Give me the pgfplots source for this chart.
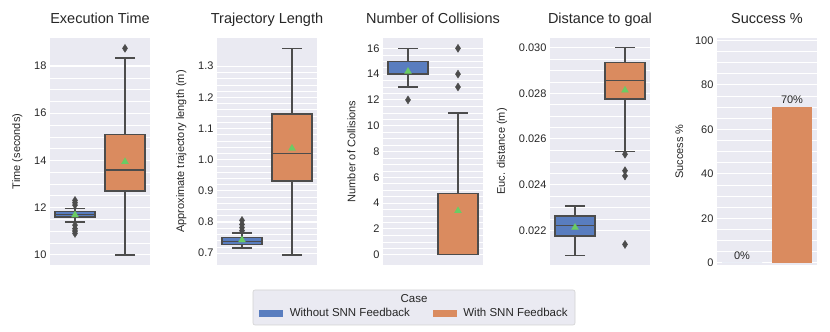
\documentclass[border=0pt]{standalone}
\usepackage{pgfplots}
\pgfplotsset{compat=1.18}
\usepgfplotslibrary{statistics}
\usepackage{fontspec}
\setmainfont{Liberation Sans}
\definecolor{bgC}{HTML}{EAEAF2}
\definecolor{blueC}{RGB}{89,125,191}
\definecolor{orangeC}{RGB}{218,139,95}
\definecolor{greenC}{RGB}{106,204,100}
\definecolor{lineC}{RGB}{76,76,76}
\definecolor{txtC}{RGB}{38,38,38}
\pgfplotsset{
  sbstyle/.style={
    scale only axis, width=100pt, height=227pt,
    anchor=north west,
    axis background/.style={fill=bgC},
    axis line style={draw=none},
    major tick length=0pt, minor tick length=0pt,
    ymajorgrids, yminorgrids,
    major grid style={white, line width=1.1pt},
    minor grid style={white, line width=0.5pt},
    xmin=-0.5, xmax=1.5, xtick=\empty,
    minor y tick num=3,
    /pgf/number format/assume math mode=true,
    tick label style={font=\fontsize{11}{13}\selectfont, text=txtC},
    label style={font=\fontsize{11}{13}\selectfont, text=txtC},
    ylabel shift=5pt,
    title style={font=\fontsize{14.5}{17}\selectfont, text=txtC, at={(0.5,1)}, anchor=base, yshift=8pt},
    clip=false,
    boxplot/draw direction=y,
  },
  bx/.style={
    forget plot, draw=lineC, line width=1.4pt, solid,
  },
  ol/.style={forget plot, only marks, mark=diamond*, mark size=4pt,
    mark options={fill=lineC, draw=lineC, line width=0.4pt, xscale=0.85}},
  mn/.style={forget plot, only marks, color=greenC, mark=triangle*, mark size=4.2pt,
    mark options={fill=greenC, draw=greenC, line width=0.1pt}},
}
\begin{document}
\begin{tikzpicture}[x=1pt,y=1pt]
\useasboundingbox (0,0) rectangle (830,332);
% legend frame
\draw[fill=bgC, draw=black!18, line width=0.6pt, rounded corners=2pt] (253,7) rectangle (575,42);
\node[font=\fontsize{11.5}{13}\selectfont, text=txtC] at (414,33.7) {Case};

% Panel 1
\begin{axis}[sbstyle, at={(50pt,294pt)}, ymin=9.56, ymax=19.19, ytick={10,12,14,16,18},
  title={Execution Time}, ylabel={Time (seconds)}]
\addplot[bx, fill=blueC, boxplot prepared={draw position=0, lower whisker=11.38, lower quartile=11.59, median=11.70, upper quartile=11.83, upper whisker=11.95, box extend=0.8, whisker extend=0.4}]
  coordinates {};
\addplot[bx, fill=orangeC, boxplot prepared={draw position=1, lower whisker=9.98, lower quartile=12.70, median=13.59, upper quartile=15.10, upper whisker=18.34, box extend=0.8, whisker extend=0.4}]
  coordinates {};
\addplot[ol] coordinates {(0,12.1) (0,12.2) (0,12.3) (0,11.25) (0,11.1) (0,11.0) (0,10.9) (1,18.75)};
\addplot[mn] coordinates {(0,11.68) (1,13.94)};
\end{axis}

% Panel 2
\begin{axis}[sbstyle, at={(217pt,294pt)}, ymin=0.662, ymax=1.39, ytick={0.7,0.8,0.9,1.0,1.1,1.2,1.3}, minor y tick num=4,
  yticklabel style={/pgf/number format/.cd, fixed, fixed zerofill, precision=1},
  title={Trajectory Length}, ylabel={Approximate trajectory length (m)}]
\addplot[bx, fill=blueC, boxplot prepared={draw position=0, lower whisker=0.717, lower quartile=0.728, median=0.738, upper quartile=0.751, upper whisker=0.764, box extend=0.8, whisker extend=0.4}]
  coordinates {};
\addplot[bx, fill=orangeC, boxplot prepared={draw position=1, lower whisker=0.694, lower quartile=0.931, median=1.020, upper quartile=1.146, upper whisker=1.357, box extend=0.8, whisker extend=0.4}]
  coordinates {};
\addplot[ol] coordinates {(0,0.772) (0,0.782) (0,0.792) (0,0.805)};
\addplot[mn] coordinates {(0,0.742) (1,1.036)};
\end{axis}

% Panel 3
\begin{axis}[sbstyle, at={(383pt,294pt)}, ymin=-0.8, ymax=16.8, ytick={0,2,...,16},
  title={Number of Collisions}, ylabel={Number of Collisions},
  legend columns=2,
  legend style={at={(0.315,-0.2128)}, anchor=center, draw=none, fill=none,
    font=\fontsize{11.5}{13}\selectfont, text=txtC,
    /tikz/every odd column/.append style={column sep=5pt},
    /tikz/every even column/.append style={column sep=21pt}}]
\addlegendimage{legend image code/.code={\fill[blueC] (0pt,-3pt) rectangle (23pt,3pt);}}
\addlegendentry{Without SNN Feedback}
\addlegendimage{legend image code/.code={\fill[orangeC] (0pt,-3pt) rectangle (23pt,3pt);}}
\addlegendentry{With SNN Feedback}
\addplot[bx, fill=blueC, boxplot prepared={draw position=0, lower whisker=13, lower quartile=14, median=14, upper quartile=15, upper whisker=16, box extend=0.8, whisker extend=0.4}]
  coordinates {};
\addplot[bx, fill=orangeC, boxplot prepared={draw position=1, lower whisker=0, lower quartile=0, median=0, upper quartile=4.75, upper whisker=11, box extend=0.8, whisker extend=0.4}]
  coordinates {};
\addplot[ol] coordinates {(0,12) (1,13) (1,14) (1,16)};
\addplot[mn] coordinates {(0,14.2) (1,3.4)};
\end{axis}

% Panel 4 (values in units of 0.001 m; tick labels show metres)
\begin{axis}[sbstyle, at={(550pt,294pt)}, ymin=20.48, ymax=30.42, ytick={22,24,26,28,30},
  yticklabels={0.022,0.024,0.026,0.028,0.030},
  title={Distance to goal}, ylabel={Euc. distance (m)}]
\addplot[bx, fill=blueC, boxplot prepared={draw position=0, lower whisker=20.9, lower quartile=21.75, median=22.22, upper quartile=22.62, upper whisker=23.07, box extend=0.8, whisker extend=0.4}]
  coordinates {};
\addplot[bx, fill=orangeC, boxplot prepared={draw position=1, lower whisker=25.45, lower quartile=27.75, median=28.57, upper quartile=29.34, upper whisker=30.0, box extend=0.8, whisker extend=0.4}]
  coordinates {};
\addplot[ol] coordinates {(1,25.33) (1,24.61) (1,24.38) (1,21.38)};
\addplot[mn] coordinates {(0,22.12) (1,28.13)};
\end{axis}

% Panel 5
\begin{axis}[sbstyle, at={(717pt,294pt)}, ymin=-1, ymax=101, ytick={0,20,...,100},
  title={Success \%}, ylabel={Success \%},
  nodes near coords={\pgfmathprintnumber{\pgfplotspointmeta}\%},
  every node near coord/.append style={font=\fontsize{11}{13}\selectfont, text=txtC}]
\addplot[ybar, bar width=0.8, bar shift=0pt, fill=blueC, draw=none] coordinates {(0,0)};
\addplot[ybar, bar width=0.8, bar shift=0pt, fill=orangeC, draw=none] coordinates {(1,70)};
\end{axis}
\end{tikzpicture}
\end{document}
